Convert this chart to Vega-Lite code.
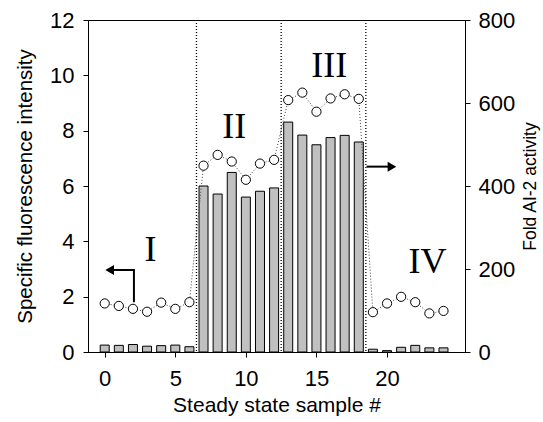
{
  "$schema": "https://vega.github.io/schema/vega-lite/v6.json",
  "width": 377,
  "height": 332,
  "autosize": "none",
  "padding": {"left": 88, "top": 20, "right": 78, "bottom": 70},
  "background": "white",
  "config": {
    "view": {"stroke": "black", "strokeWidth": 1},
    "font": "Liberation Sans",
    "axis": {
      "labelFont": "Liberation Sans",
      "titleFont": "Liberation Sans",
      "labelColor": "black",
      "titleColor": "black",
      "domainColor": "black",
      "tickColor": "black",
      "grid": false,
      "titleFontWeight": "normal",
      "labelFontSize": 22,
      "tickSize": 5
    }
  },
  "datasets": {
    "samples": [
      {"sample": 0, "fluor": 0.25, "ai2": 117},
      {"sample": 1, "fluor": 0.24, "ai2": 111},
      {"sample": 2, "fluor": 0.27, "ai2": 104},
      {"sample": 3, "fluor": 0.21, "ai2": 97},
      {"sample": 4, "fluor": 0.23, "ai2": 119},
      {"sample": 5, "fluor": 0.25, "ai2": 104},
      {"sample": 6, "fluor": 0.19, "ai2": 120},
      {"sample": 7, "fluor": 6.0, "ai2": 449},
      {"sample": 8, "fluor": 5.71, "ai2": 475},
      {"sample": 9, "fluor": 6.49, "ai2": 459},
      {"sample": 10, "fluor": 5.6, "ai2": 415},
      {"sample": 11, "fluor": 5.81, "ai2": 454},
      {"sample": 12, "fluor": 5.93, "ai2": 463},
      {"sample": 13, "fluor": 8.31, "ai2": 607},
      {"sample": 14, "fluor": 7.84, "ai2": 625},
      {"sample": 15, "fluor": 7.49, "ai2": 579},
      {"sample": 16, "fluor": 7.75, "ai2": 611},
      {"sample": 17, "fluor": 7.83, "ai2": 621},
      {"sample": 18, "fluor": 7.59, "ai2": 610},
      {"sample": 19, "fluor": 0.1, "ai2": 96},
      {"sample": 20, "fluor": 0.05, "ai2": 117},
      {"sample": 21, "fluor": 0.17, "ai2": 133},
      {"sample": 22, "fluor": 0.24, "ai2": 120},
      {"sample": 23, "fluor": 0.15, "ai2": 93},
      {"sample": 24, "fluor": 0.15, "ai2": 99}
    ],
    "dividers": [{"sample": 6.5}, {"sample": 12.5}, {"sample": 18.5}],
    "labels": [
      {"label": "I", "sample": 3.24, "fluor": 3.29},
      {"label": "II", "sample": 9.17, "fluor": 7.72},
      {"label": "III", "sample": 15.91, "fluor": 9.95},
      {"label": "IV", "sample": 22.87, "fluor": 2.84}
    ],
    "arrowLines": [
      {"arrow": "left", "o": 1, "sample": 2.07, "fluor": 1.8},
      {"arrow": "left", "o": 2, "sample": 2.07, "fluor": 2.96},
      {"arrow": "left", "o": 3, "sample": 0.4, "fluor": 2.96},
      {"arrow": "right", "o": 1, "sample": 18.55, "fluor": 6.7},
      {"arrow": "right", "o": 2, "sample": 20.3, "fluor": 6.7}
    ],
    "arrowHeads": [
      {"dir": "triangle-left", "sample": 0.35, "fluor": 2.96},
      {"dir": "triangle-right", "sample": 20.35, "fluor": 6.7}
    ]
  },
  "encoding": {
    "x": {
      "field": "sample",
      "type": "quantitative",
      "scale": {"domain": [-0.83, 25.17], "nice": false, "zero": false},
      "axis": {
        "values": [0, 5, 10, 15, 20],
        "title": "Steady state sample #",
        "titleFontSize": 21,
        "labelPadding": 11,
        "titlePadding": 5
      }
    }
  },
  "layer": [
    {
      "encoding": {
        "y": {
          "field": "fluor",
          "type": "quantitative",
          "scale": {"domain": [0, 12], "nice": false},
          "axis": {
            "orient": "left",
            "values": [0, 2, 4, 6, 8, 10, 12],
            "title": "Specific fluorescence intensity",
            "titleFontSize": 20.5,
            "labelPadding": 9,
            "titlePadding": 14
          }
        }
      },
      "layer": [
        {
          "data": {"name": "samples"},
          "mark": {"type": "bar", "size": 9, "fill": "#c0c0c0", "stroke": "black", "strokeWidth": 1}
        },
        {
          "data": {"name": "labels"},
          "mark": {"type": "text", "font": "Liberation Serif", "fontSize": 36, "baseline": "alphabetic", "align": "center", "color": "black"},
          "encoding": {
            "text": {"field": "label"}
          }
        },
        {
          "data": {"name": "arrowLines"},
          "mark": {"type": "line", "color": "black", "strokeWidth": 2},
          "encoding": {
            "detail": {"field": "arrow"},
            "order": {"field": "o"}
          }
        },
        {
          "data": {"name": "arrowHeads"},
          "mark": {"type": "point", "filled": true, "color": "black", "size": 100, "opacity": 1},
          "encoding": {
            "shape": {"field": "dir", "type": "nominal", "scale": null}
          }
        }
      ]
    },
    {
      "data": {"name": "dividers"},
      "mark": {"type": "rule", "color": "black", "strokeDash": [1, 2], "strokeWidth": 1.3},
      "encoding": {}
    },
    {
      "data": {"name": "samples"},
      "encoding": {
        "y": {
          "field": "ai2",
          "type": "quantitative",
          "scale": {"domain": [0, 800], "nice": false},
          "axis": {
            "orient": "right",
            "values": [0, 200, 400, 600, 800],
            "title": "Fold AI-2 activity",
            "titleAngle": -90,
            "titleBaseline": "top",
            "titleFontSize": 17.5,
            "labelPadding": 8,
            "titlePadding": 7
          }
        }
      },
      "layer": [
        {
          "mark": {"type": "line", "color": "#444", "strokeDash": [1, 2], "strokeWidth": 1}
        },
        {
          "mark": {"type": "point", "shape": "circle", "filled": true, "fill": "white", "stroke": "black", "strokeWidth": 1, "size": 85, "opacity": 1}
        }
      ]
    }
  ],
  "resolve": {"scale": {"y": "independent"}}
}
